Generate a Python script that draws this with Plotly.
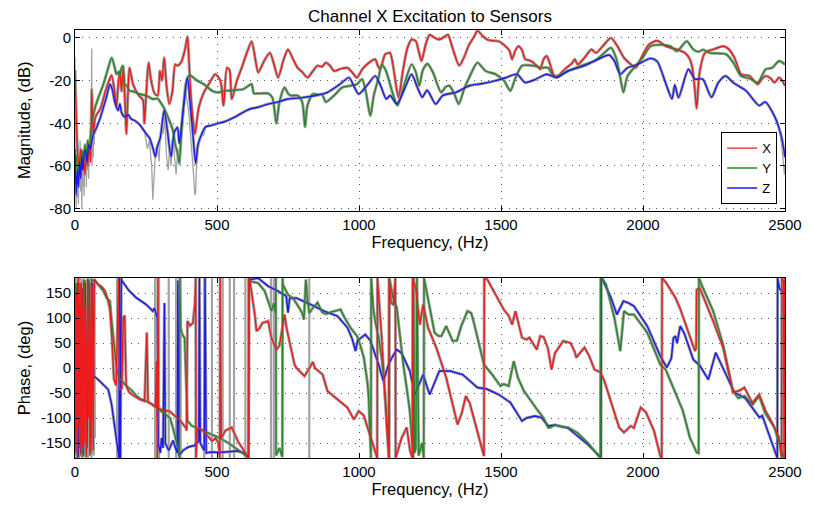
import plotly.graph_objects as go

# ---------------- Magnitude data (Hz, dB) ----------------
mag_f_x = [0,5,10,15,20,25,30,35,40,45,50,55,59,64,70,76,90,105,120,129,140,146,152,158,164,170,176,181,186,192,205,225,239,244,250,259,268,280,291,299,306,314,322,332,343,353,361,375,388,396,401,407,415,422,436,454,471,494,512,523,535,544,552,570,587,605,622,635,645,665,686,700,715,735,750,768,784,800,819,835,854,870,883,898,912,935,959,975,993,1010,1028,1057,1066,1075,1092,1109,1120,1139,1155,1170,1185,1200,1210,1220,1235,1249,1265,1283,1300,1313,1330,1353,1370,1388,1405,1417,1435,1452,1470,1492,1516,1530,1539,1550,1562,1575,1585,1600,1614,1620,1630,1638,1650,1661,1672,1684,1696,1715,1730,1745,1752,1760,1770,1794,1818,1835,1858,1887,1910,1933,1957,1974,1997,2021,2050,2081,2119,2148,2165,2175,2183,2189,2195,2200,2218,2247,2282,2300,2322,2345,2360,2375,2390,2404,2420,2433,2450,2463,2479,2490,2500]
mag_x = [-15,-40,-55,-60,-52,-62,-56,-64,-54,-60,-50,-58,-24,-45,-38,-36,-33,-26,-20,-17.5,-26,-32,-22,-15.5,-25,-14,-30,-45,-28,-14,-22,-27,-29,-40,-28,-11.6,-20,-26,-27,-15.5,-20,-9.3,-22,-31,-25,-12.4,-13,-11,-5,0.7,-10,-25,-38,-45,-32.5,-25.5,-21.7,-17,-20,-31.7,-14,-15,-28.6,-20,-14,-7,-1.6,-10,-16.2,-11,-7,-12,-18.6,-10,-5.4,-10,-14,-16,-18.6,-16,-13,-13.5,-11.6,-13,-15.5,-14.5,-14,-16,-18.6,-15,-12.4,-10,-13,-14.7,-7.7,-7,-13,-27.8,-15,-5,-0.8,-1.5,-6,-10.8,-3,1.5,0.2,-0.8,0.5,1.5,-5,-13,-9,-3.1,0.5,3.4,1,-0.8,-1.3,-1.6,-3.9,-6,-10,-6,-3.9,-6,-10,-10.5,-11.6,-12.4,-13.5,-14.7,-10,-8.5,-12,-17,-18.6,-16,-14,-12.5,-11.5,-10,-12.5,-9.3,-5.4,-7,-3.9,0,-3.9,-9.3,-12.4,-14,-8.5,-3.1,-1.3,-3.9,-5.4,-7,-10,-15,-25,-33,-22,-15.5,-7,-5.4,-3.9,-5,-9.3,-17,-17.5,-17.8,-20,-21.7,-19,-17.8,-19,-20.9,-18.6,-20,-22.4]

mag_f_y = [0,5,10,15,20,24,30,35,40,45,50,59,71,85,100,115,129,140,146,152,158,164,169,175,181,192,204,227,250,274,291,300,314,332,344,353,361,367,372,382,390,396,405,416,430,454,483,500,531,560,593,610,622,630,645,657,680,695,709,720,738,750,760,784,800,810,818,837,854,870,883,912,941,965,993,1011,1025,1040,1052,1069,1080,1095,1121,1136,1155,1185,1200,1212,1225,1241,1260,1289,1305,1318,1335,1351,1370,1388,1417,1446,1480,1510,1533,1550,1574,1600,1620,1643,1666,1684,1696,1736,1783,1829,1860,1887,1905,1920,1931,1945,1968,2000,2026,2060,2096,2119,2154,2177,2195,2212,2235,2293,2320,2345,2375,2404,2432,2455,2479,2500]
mag_y = [-62,-55,-65,-58,-60,-52.6,-58,-50,-55,-48,-52,-40,-32.5,-27,-21.7,-15,-9.3,-14,-17,-16,-17.8,-14,-13,-22.4,-22,-24.8,-25,-26.3,-27,-28.6,-28.5,-30,-33,-38.7,-43,-50,-54,-58.8,-50,-32,-22,-18.6,-17.5,-18.5,-20,-21.7,-24.8,-25.5,-24.8,-24.5,-24,-22.5,-21.7,-26,-26,-26,-26,-28,-40,-30,-23.2,-26,-27,-27,-30,-41.7,-32,-26.3,-26.5,-26.5,-30,-27,-23.2,-22.5,-21.7,-19.3,-26,-36.4,-27,-18.6,-12.4,-15.5,-27,-31.7,-24,-12.4,-16,-22.4,-15,-12.1,-16,-25.5,-23,-22.4,-26,-31,-24,-18.6,-11.6,-15.5,-17,-20,-24.8,-19,-13,-12.8,-13.2,-14,-14,-17.8,-17.8,-15.5,-13,-10.8,-7.5,-4.6,-9.3,-18.6,-25.5,-18,-14,-9,-3.9,-3.2,-3.9,-6.2,-1.6,-5.4,-6.5,-5.5,-7,-7.7,-12,-17.8,-19,-20.9,-14.7,-14,-10.8,-12.4]

mag_f_z = [0,4,8,12,16,20,24,28,32,36,42,48,54,60,65,77,90,100,112,123,131,140,146,152,158,164,175,187,198,210,230,251,263,275,283,290,300,314,325,338,350,361,367,380,396,405,415,425,433,442,460,480,500,520,540,564,590,616,645,680,715,750,800,848,889,930,965,980,999,1030,1057,1075,1096,1110,1133,1160,1185,1205,1223,1240,1270,1295,1342,1388,1430,1481,1520,1556,1585,1620,1661,1696,1736,1794,1852,1881,1900,1920,1945,1980,2026,2050,2079,2102,2112,2125,2160,2183,2210,2241,2265,2291,2317,2363,2409,2430,2462,2485,2498,2500]
mag_z = [-52,-73.5,-62,-70,-58,-66,-55.7,-62,-54,-52.6,-58,-50,-52,-48,-45,-41.7,-37,-32.5,-27,-21.7,-24,-30,-32.5,-34,-31,-35,-37,-36,-38,-38.7,-41,-45,-47,-52,-55.7,-51,-47,-34,-43,-55.7,-44,-42,-49.5,-35,-18.6,-30,-45,-58.8,-50,-46.4,-41.7,-41,-40.2,-39.5,-38.5,-37,-35,-33.3,-32.5,-31,-30,-28.6,-28,-27,-25.5,-22,-18.6,-22,-26.3,-22,-17.8,-22,-28.6,-27,-31,-24,-17,-23,-27.8,-24.5,-31,-27,-25.5,-22.4,-21.5,-20,-18.5,-17,-20.9,-19.5,-17,-18.6,-15.5,-13,-9.3,-8,-11,-17,-14,-12.5,-9.6,-11,-20.9,-28.6,-22,-28,-14.7,-19.3,-19.3,-27.8,-21,-17.8,-20.9,-24.8,-31.7,-30,-36.4,-45,-54,-56]

# raw (unsmoothed) magnitude, visible as grey noise
raw_f_a = [0,1,2,4,6,8,10,12,14,16,18,20,22,24,26,28,30,32,34,36,38,40,42,44,46,48,50,52,54,56,58,59,60,62,64,66,68,70,72,76]
raw_a = [-9,-70,-55,-80,-60,-75,-50,-78,-58,-66,-48,-72,-55,-80,-60,-70,-52,-74,-58,-64,-50,-70,-56,-62,-48,-66,-54,-58,-46,-52,-30,-5,-60,-48,-56,-42,-50,-38,-45,-40]
raw_f_b = [245,255,262,270,274,280,284,290,296,300,305,310,316,322,328,334,338,344,350,356,362,369,374,380,390,400,410,418,422,425,428,434,440,446,452,460]
raw_b = [-44,-52,-48,-60,-75.8,-62,-52,-50,-58,-48,-40,-45,-38,-55,-62,-50,-60,-46,-56,-64,-52,-59.6,-48,-38,-25,-34,-50,-65,-73.5,-72,-60,-52,-48,-44,-46,-42]
raw_f_c = [2470,2480,2488,2494,2498,2500]
raw_c = [-38,-42,-50,-58,-64,-60]

# ---------------- Phase data (Hz, deg) ----------------
ph_f_x = [0,3,6,9,12,15,18,21,24,27,30,33,36,40,44,48,52,56,60,64,68,80,95,106,115,123,129,134,137,145,150,153,157,165,170,175,180,190,200,215,230,245,250,253,257,270,283,287,290,292,294,310,332,350,370,390,393,396,405,415,422,425,426,430,436,450,470,483,495,505,510,511,515,530,552,560,575,595,611,612,616,633,639,650,660,680,692,709,720,738,745,773,780,808,831,838,845,872,889,924,959,982,999,1017,1040,1064,1065,1080,1098,1105,1106,1113,1121,1128,1129,1140,1150,1168,1180,1188,1189,1200,1214,1226,1243,1272,1307,1330,1347,1362,1376,1390,1417,1440,1441,1452,1481,1510,1527,1539,1551,1574,1590,1600,1626,1638,1650,1665,1678,1690,1719,1745,1760,1765,1794,1810,1829,1850,1864,1893,1916,1933,1957,1968,1992,2010,2039,2061,2066,2067,2080,2100,2114,2130,2166,2183,2187,2189,2200,2215,2247,2282,2317,2340,2357,2385,2409,2432,2455,2479,2488,2489,2495,2497,2500]
ph_x = [170,-170,150,-180,180,-120,170,-175,160,-160,175,-150,120,-178,178,-100,170,-170,165,-165,178,168,162,154,138,118,70,10,-22,-35,150,178,-45,-40,100,105,-35,-48,-53,-58,-63,-66,30,71,-68,-72,-78,14,-180,180,-80,-85,-86,-95,-105,-119,-125,94,85,90,127,180,-180,-125,-119,-125,-138,-146,-140,-150,-180,180,-140,-125,-119,-130,-148,-165,-180,180,174,107,74,80,90,94,60,37,45,107,80,7,0,-16,7,12,0,-13,-46,-63,-79,-103,-86,-95,-139,-180,180,60,-120,-180,180,130,127,180,-180,-160,-140,-119,-166,-180,180,160,87,127,81,41,-19,-73,-113,-90,-56,-70,-126,-176,180,177,147,117,105,87,114,61,57,61,37,64,62,40,-3,30,54,50,32,21,41,25,-3,-8,-26,-79,-119,-129,-116,-120,-79,-88,-126,-176,-180,180,172,154,141,120,61,34,40,157,160,140,94,41,-49,-45,-39,-70,-53,-86,-110,-139,-180,180,175,-180,180]

ph_f_y = [0,4,8,12,17,22,28,34,40,46,52,58,65,71,85,100,112,123,128,134,140,146,155,164,175,187,200,215,230,251,270,286,300,320,335,345,355,361,365,368,369,372,378,386,392,396,410,430,448,480,506,540,564,590,611,612,616,645,668,692,700,706,707,708,720,730,731,732,750,770,790,800,806,810,813,818,825,837,854,870,883,900,935,950,970,993,1005,1017,1030,1034,1042,1043,1050,1057,1069,1080,1086,1098,1106,1107,1120,1133,1145,1156,1168,1179,1191,1192,1196,1200,1204,1210,1222,1228,1229,1231,1240,1249,1266,1280,1290,1307,1320,1330,1345,1360,1382,1395,1405,1417,1440,1469,1498,1510,1527,1545,1560,1580,1610,1631,1650,1666,1672,1690,1720,1736,1770,1806,1847,1850,1851,1858,1870,1899,1920,1933,1950,1968,2015,2061,2080,2100,2125,2140,2165,2189,2196,2197,2206,2247,2282,2317,2335,2357,2386,2409,2430,2463,2488,2496]
ph_y = [-150,170,-175,175,-160,170,-178,176,-170,178,-175,178,174,174,165,154,140,134,100,67,20,1,-20,-26,-32,-39,-45,-55,-62,-66,-72,-79,-85,-93,-100,-120,-140,-153,-165,-180,180,80,67,60,-20,-106,-115,-120,-126,-133,-139,-150,-159,-170,-180,180,174,170,154,114,130,110,180,-175,-160,-178,180,167,147,138,120,110,97,160,177,140,110,120,131,112,108,112,117,100,81,64,45,21,-30,-59,-180,180,120,94,61,20,-13,-99,-180,180,140,121,60,7,-40,-86,-180,180,-170,-160,180,-175,-150,-180,180,174,145,121,71,64,64,84,65,54,55,84,114,110,90,61,7,-13,-36,-32,-36,14,-20,-45,-70,-86,-100,-119,-119,-114,-118,-119,-130,-150,-178,-180,180,178,167,101,34,114,107,107,71,7,-3,-30,-63,-85,-139,-169,-170,180,167,114,47,-46,-60,-56,-73,-56,-90,-119,-166,-180]

ph_f_z = [0,3,6,9,12,16,20,25,30,36,42,48,55,62,66,71,85,100,117,129,140,146,150,155,156,160,163,165,175,190,215,251,274,280,287,290,293,300,305,310,315,318,330,345,360,362,366,380,400,420,436,438,441,455,458,462,480,506,530,570,600,611,612,616,645,665,680,715,744,750,756,780,819,831,877,924,959,975,988,995,1022,1040,1069,1086,1104,1115,1133,1150,1179,1197,1210,1226,1238,1249,1262,1283,1320,1365,1417,1450,1492,1533,1574,1590,1620,1643,1666,1690,1736,1771,1806,1852,1853,1858,1887,1908,1931,1950,1968,2015,2061,2084,2100,2107,2114,2120,2131,2145,2177,2200,2230,2256,2287,2322,2360,2410,2420,2473,2474,2480,2493,2500]
ph_z = [-140,150,-60,170,-178,40,-170,160,-175,170,-160,175,-150,170,-20,-18,-25,-33,-43,-73,-120,-139,-160,-180,180,-180,180,175,167,155,141,127,114,120,105,100,-150,-170,-140,-160,130,-150,-165,-145,-170,175,-175,-165,-158,-155,-146,180,-150,-165,180,-170,-168,-169,-168,-166,-170,-180,180,177,180,170,164,154,144,111,140,140,131,127,114,104,81,60,34,55,67,55,7,-26,7,20,37,30,-6,-53,-35,-13,-35,-53,-35,-6,-6,-13,-39,-42,-53,-69,-106,-100,-96,-99,-116,-114,-120,-136,-153,-179,180,177,141,107,134,130,124,84,24,1,20,60,64,50,84,70,17,5,-23,31,-6,-49,-60,-99,-95,-180,180,160,151,140]

# raw phase (grey) : noisy low-frequency part and isolated wraps
raw_pf_a = [0,2,4,6,8,10,12,14,16,18,20,22,24,26,28,30,32,34,36,38,40,42,44,46,48,50,52,54,56,58,60,62,64,66,68,70]
raw_pa = [180,-180,170,-175,180,-160,175,-180,150,-170,180,-178,165,-180,178,-150,180,-176,160,-180,172,-165,180,-180,158,-172,180,-168,176,-180,170,-160,178,-175,165,-140]
raw_pf_b = [148,148,None,282,282,None,296,296,None,330,330,None,356,356,None,372,372,None,455,455,None,482,482,None,520,520,None,545,545,None,560,560,None,600,600,None,690,690,None,700,700,None,825,825]
raw_pb = [180,-180,None,180,-180,None,180,-180,None,180,-180,None,180,-180,None,180,-180,None,180,-180,None,180,-180,None,180,-180,None,180,-180,None,180,-180,None,180,-180,None,180,-180,None,180,-180,None,180,-180]

# ---------------- styling ----------------
RED = "#ee1c1c"
GREEN = "#2a852a"
BLUE = "#1a1aee"
GREY = "#a3a3a3"
FONT = "Liberation Sans, Arial, sans-serif"

fig = go.Figure()

def add(x, y, color, width, xa, ya, name=None, legend=False, smooth=False):
    line = dict(color=color, width=width)
    if smooth:
        line.update(shape="spline", smoothing=0.7)
    fig.add_trace(go.Scatter(x=x, y=y, mode="lines", line=line,
                             xaxis=xa, yaxis=ya, name=name, showlegend=legend,
                             connectgaps=False, hoverinfo="skip"))

# magnitude: grey raw / shadows first
for fx, v in [(raw_f_a, raw_a), (raw_f_b, raw_b), (raw_f_c, raw_c)]:
    add(fx, v, GREY, 1.3, "x", "y")
for fx, v in [(mag_f_x, mag_x), (mag_f_y, mag_y), (mag_f_z, mag_z)]:
    add(fx, v, GREY, 3.0, "x", "y", smooth=True)
add(mag_f_x, mag_x, RED, 1.4, "x", "y", "X", True, smooth=True)
add(mag_f_y, mag_y, GREEN, 1.4, "x", "y", "Y", True, smooth=True)
add(mag_f_z, mag_z, BLUE, 1.4, "x", "y", "Z", True, smooth=True)

# phase
for fx, v in [(raw_pf_a, raw_pa), (raw_pf_b, raw_pb)]:
    add(fx, v, GREY, 2.2, "x2", "y2")
for fx, v in [(ph_f_x, ph_x), (ph_f_y, ph_y), (ph_f_z, ph_z)]:
    add(fx, v, GREY, 3.0, "x2", "y2")
add(ph_f_z, ph_z, BLUE, 1.4, "x2", "y2")
add(ph_f_y, ph_y, GREEN, 1.4, "x2", "y2")
add(ph_f_x, ph_x, RED, 1.4, "x2", "y2")

xt = [0, 500, 1000, 1500, 2000, 2500]
axis_common = dict(showline=True, linecolor="black", linewidth=1, mirror="ticks",
                   ticks="inside", ticklen=5, tickcolor="black",
                   showgrid=True, gridcolor="#555555", gridwidth=1, griddash="1px,6px",
                   zeroline=False, tickfont=dict(family=FONT, size=15, color="black"),
                   title_font=dict(family=FONT, size=16.5, color="black"))

mag_ticks = [-80, -60, -40, -20, 0]
ph_ticks = [-150, -100, -50, 0, 50, 100, 150]

fig.update_layout(
    width=814, height=505,
    margin=dict(l=75, r=21, t=30, b=42),
    paper_bgcolor="white", plot_bgcolor="white",
    title=dict(text="Channel X Excitation to Sensors", x=0.5, xref="paper", xanchor="center",
               y=1 - 16/505, yref="container", yanchor="middle",
               font=dict(family=FONT, size=17, color="black")),
    xaxis=dict(domain=[0, 1], anchor="y", range=[0, 2500], tickvals=xt,
               ticktext=[str(v) for v in xt], title=dict(text="Frequency, (Hz)", standoff=1),
               **axis_common),
    yaxis=dict(domain=[0.578, 1], anchor="x", range=[-80.93, 3.71], tickvals=mag_ticks,
               ticktext=[str(v) for v in mag_ticks], title=dict(text="Magnitude, (dB)", standoff=14),
               **axis_common),
    xaxis2=dict(domain=[0, 1], anchor="y2", range=[0, 2500], tickvals=xt,
                ticktext=[str(v) for v in xt], title=dict(text="Frequency, (Hz)", standoff=1),
                **axis_common),
    yaxis2=dict(domain=[0, 0.4203], anchor="x2", range=[-180, 180], tickvals=ph_ticks,
                ticktext=[str(v) for v in ph_ticks], title=dict(text="Phase, (deg)", standoff=6),
                **axis_common),
    legend=dict(x=0.989, xanchor="right", y=0.593, yanchor="bottom",
                bgcolor="white", bordercolor="black", borderwidth=1,
                font=dict(family=FONT, size=13, color="black"),
                itemwidth=30, tracegroupgap=0),
    showlegend=True,
)

fig.write_html("out.html")
